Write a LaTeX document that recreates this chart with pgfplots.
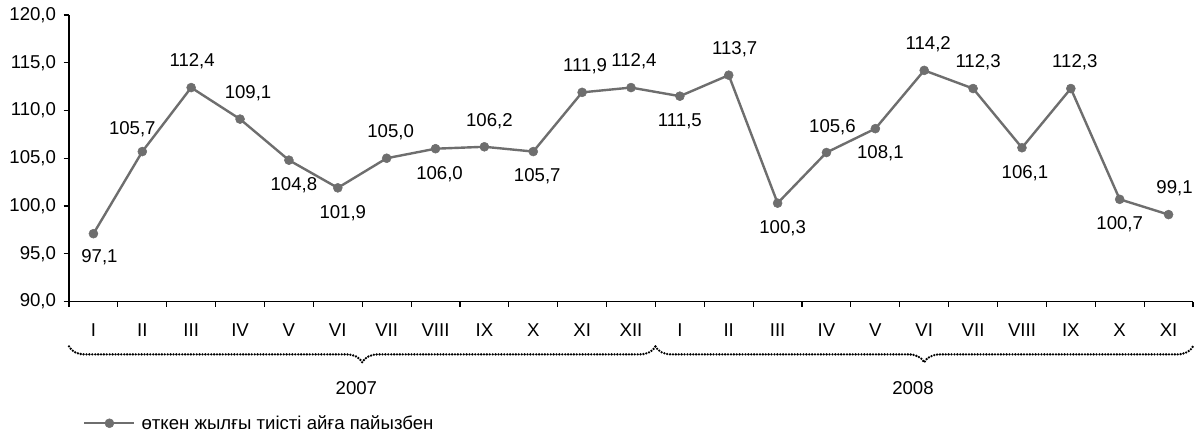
\documentclass[border=0pt]{standalone}
\usepackage{fontspec}
\setmainfont{Liberation Sans}
\usepackage{pgfplots}
\usepackage{pgfplotstable}
\pgfplotsset{compat=1.18}
\usetikzlibrary{decorations.pathreplacing}
\definecolor{lineg}{RGB}{110,110,110}

\pgfplotstableread{
x y dx dy
0.5 97.1 6 -24
1.5 105.7 -10 22
2.5 112.4 1 26
3.5 109.1 8 26
4.5 104.8 5 -25
5.5 101.9 5 -25
6.5 105.0 4 26
7.5 106.0 4 -25
8.5 106.2 5 26
9.5 105.7 4 -25
10.5 111.9 3 26
11.5 112.4 3 26
12.5 111.5 0 -25
13.5 113.7 6 26
14.5 100.3 5 -25
15.5 105.6 6 25
16.5 108.1 5 -25
17.5 114.2 4 26
18.5 112.3 5 26
19.5 106.1 3 -25
20.5 112.3 4 26
21.5 100.7 0 -25
22.5 99.1 6 26
}\datatable

\begin{document}
\begin{tikzpicture}
\useasboundingbox (0,0) rectangle (1199bp,433bp);
\begin{axis}[
  at={(69bp,131.5bp)}, anchor=south west,
  scale only axis, width=1124bp, height=286.5bp,
  xmin=0, xmax=23, ymin=90, ymax=120,
  clip=false,
  axis lines=left,
  axis line style={-, line width=1.1bp, black},
  tick align=outside,
  major tick length=5.5bp, minor tick length=5.5bp,
  tick style={line width=1.1bp, black},
  xtick={0.5,1.5,...,22.5},
  xticklabels={I,II,III,IV,V,VI,VII,VIII,IX,X,XI,XII,I,II,III,IV,V,VI,VII,VIII,IX,X,XI},
  minor xtick={0,1,...,23},
  major x tick style={draw=none},
  ytick={90,95,...,120},
  font=\fontsize{18.6bp}{22bp}\selectfont,
  ticklabel style={font=\fontsize{18.6bp}{22bp}\selectfont},
  xticklabel style={yshift=-13bp},
  yticklabel style={xshift=-4bp},
  /pgf/number format/use comma,
  /pgf/number format/fixed,
  /pgf/number format/fixed zerofill,
  /pgf/number format/precision=1,
  /pgf/number format/assume math mode=true,
  legend style={at={(rel axis cs:0.0125,-0.425)}, anchor=west, draw=none, fill=none,
    inner sep=0pt, font=\fontsize{18.6bp}{22bp}\selectfont,
    /tikz/every odd column/.append style={column sep=4bp}},
  legend image code/.code={\draw[mark repeat=2,mark phase=2,#1] plot coordinates {(0bp,0bp) (25bp,0bp) (50bp,0bp)};},
]
\addplot[lineg, line width=2.4bp, mark=*, mark size=4.5bp, mark options={fill=lineg, draw=lineg, line width=0.5bp},
  nodes near coords, point meta=y,
  visualization depends on={\thisrow{dx} \as \dx},
  visualization depends on={\thisrow{dy} \as \dy},
  nodes near coords style={anchor=center, xshift=\dx bp, yshift=\dy bp, black, font=\fontsize{18.6bp}{22bp}\selectfont}
] table[x=x, y=y] {\datatable};
\addlegendentry{өткен жылғы тиісті айға пайызбен}

\draw[decorate, decoration={brace, mirror, amplitude=16bp}, line width=2.6bp, dash pattern=on 0pt off 2.9bp, line cap=round, black]
  (axis cs:0,85.3) -- (axis cs:12,85.3);
\draw[decorate, decoration={brace, mirror, amplitude=16bp}, line width=2.6bp, dash pattern=on 0pt off 2.9bp, line cap=round, black]
  (axis cs:12,85.3) -- (axis cs:23,85.3);
\node[font=\fontsize{18.6bp}{22bp}\selectfont] at (axis cs:5.88,80.94) {2007};
\node[font=\fontsize{18.6bp}{22bp}\selectfont] at (axis cs:17.27,80.94) {2008};
\end{axis}
\end{tikzpicture}
\end{document}
